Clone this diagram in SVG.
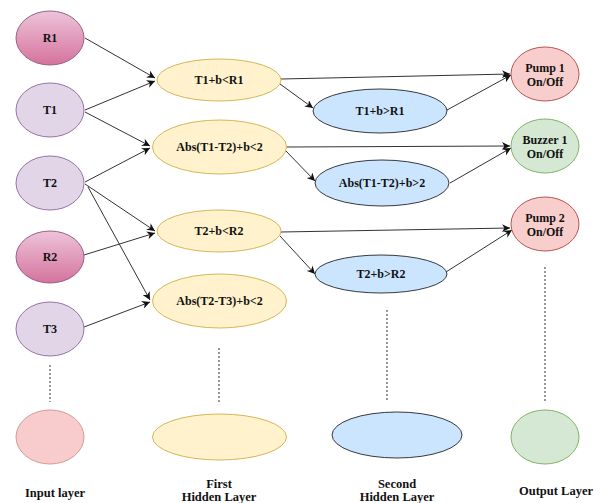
<svg xmlns="http://www.w3.org/2000/svg" width="606" height="503" viewBox="0 0 606 503">
<defs>
<linearGradient id="pinkG" x1="0" y1="0" x2="0" y2="1">
<stop offset="0" stop-color="#edc4da"/>
<stop offset="1" stop-color="#d5739d"/>
</linearGradient>
<marker id="arr" viewBox="0 0 10 10" refX="10" refY="5" markerWidth="8" markerHeight="8" orient="auto" markerUnits="userSpaceOnUse">
<path d="M0,0 L10,5 L0,10 L3,5 z" fill="#111"/>
</marker>
<style>
.lbl{font-family:"Liberation Serif","Times New Roman",serif;font-weight:bold;font-size:12px;fill:#111;text-anchor:middle}
.cap{font-family:"Liberation Serif","Times New Roman",serif;font-weight:bold;font-size:12.5px;fill:#111;text-anchor:middle}
.pink{fill:url(#pinkG);stroke:#996185;stroke-width:1}
.lav{fill:#e1d5e7;stroke:#9673a6;stroke-width:1}
.yel{fill:#fff2cc;stroke:#d6b656;stroke-width:1}
.blu{fill:#cce5ff;stroke:#36393d;stroke-width:1}
.red{fill:#f8cecc;stroke:#b85450;stroke-width:1}
.grn{fill:#d5e8d4;stroke:#82b366;stroke-width:1}
.edge{stroke:#333;stroke-width:1;fill:none;marker-end:url(#arr)}
.dot{stroke:#333;stroke-width:1;stroke-dasharray:2,2;fill:none}
</style>
</defs>
<rect width="606" height="503" fill="#fff"/>

<g id="connectors">
<line class="edge" x1="85" y1="38" x2="155" y2="78"/>
<line class="edge" x1="85" y1="110" x2="155" y2="81"/>
<line class="edge" x1="85" y1="112" x2="150" y2="146"/>
<line class="edge" x1="85" y1="182" x2="150" y2="148"/>
<line class="edge" x1="85" y1="184" x2="155" y2="231"/>
<line class="edge" x1="88" y1="187" x2="150" y2="300"/>
<line class="edge" x1="84" y1="255" x2="155" y2="233"/>
<line class="edge" x1="84" y1="327" x2="150" y2="302"/>
<line class="edge" x1="281" y1="79" x2="510" y2="74"/>
<line class="edge" x1="280" y1="84" x2="313" y2="108"/>
<line class="edge" x1="447" y1="110" x2="511" y2="75"/>
<line class="edge" x1="287" y1="147" x2="510" y2="146"/>
<line class="edge" x1="286" y1="151" x2="315" y2="181"/>
<line class="edge" x1="450" y1="183" x2="511" y2="148"/>
<line class="edge" x1="281" y1="232" x2="510" y2="228"/>
<line class="edge" x1="280" y1="236" x2="315" y2="274"/>
<line class="edge" x1="446" y1="272" x2="512" y2="230"/>
<line class="dot" x1="50" y1="365" x2="50" y2="402"/>
<line class="dot" x1="219" y1="348" x2="219" y2="402"/>
<line class="dot" x1="387" y1="310" x2="387" y2="402"/>
<line class="dot" x1="545" y1="267" x2="545" y2="402"/>
</g>

<g id="R1"><ellipse class="pink" cx="50" cy="38" rx="34" ry="27"/><text class="lbl" x="50" y="42">R1</text></g>
<g id="T1"><ellipse class="lav" cx="50" cy="110" rx="34" ry="27"/><text class="lbl" x="50" y="114">T1</text></g>
<g id="T2"><ellipse class="lav" cx="50" cy="183" rx="34" ry="27"/><text class="lbl" x="50" y="187">T2</text></g>
<g id="R2"><ellipse class="pink" cx="50" cy="257" rx="34" ry="26"/><text class="lbl" x="50" y="261">R2</text></g>
<g id="T3"><ellipse class="lav" cx="50" cy="329" rx="34" ry="27"/><text class="lbl" x="50" y="333">T3</text></g>
<g id="Inext"><ellipse class="red" cx="50" cy="437" rx="34" ry="27" style="fill:#f8cccc;stroke:#d49a98"/></g>

<g id="H1a"><ellipse class="yel" cx="219" cy="80" rx="62" ry="21"/><text class="lbl" x="219" y="84">T1+b&lt;R1</text></g>
<g id="H1b"><ellipse class="yel" cx="219.5" cy="147" rx="67" ry="27"/><text class="lbl" x="219.5" y="151">Abs(T1-T2)+b&lt;2</text></g>
<g id="H1c"><ellipse class="yel" cx="219" cy="231" rx="62" ry="21"/><text class="lbl" x="219" y="235">T2+b&lt;R2</text></g>
<g id="H1d"><ellipse class="yel" cx="219.5" cy="301" rx="67" ry="27"/><text class="lbl" x="219.5" y="305">Abs(T2-T3)+b&lt;2</text></g>
<g id="H1next"><ellipse class="yel" cx="219.5" cy="437" rx="67" ry="23"/></g>

<g id="H2a"><ellipse class="blu" cx="380" cy="111" rx="67" ry="22"/><text class="lbl" x="380" y="115">T1+b&gt;R1</text></g>
<g id="H2b"><ellipse class="blu" cx="382" cy="183" rx="67" ry="23"/><text class="lbl" x="382" y="187">Abs(T1-T2)+b&gt;2</text></g>
<g id="H2c"><ellipse class="blu" cx="381" cy="274" rx="66" ry="19"/><text class="lbl" x="381" y="278">T2+b&gt;R2</text></g>
<g id="H2next"><ellipse class="blu" cx="397" cy="435" rx="65" ry="23"/></g>

<g id="O1"><ellipse class="red" cx="545" cy="74" rx="34" ry="27"/><text class="lbl" x="545" y="72">Pump 1</text><text class="lbl" x="545" y="86">On/Off</text></g>
<g id="O2"><ellipse class="grn" cx="545" cy="146" rx="34" ry="27"/><text class="lbl" x="545" y="144">Buzzer 1</text><text class="lbl" x="545" y="158">On/Off</text></g>
<g id="O3"><ellipse class="red" cx="545" cy="224" rx="34" ry="27"/><text class="lbl" x="545" y="222">Pump 2</text><text class="lbl" x="545" y="236">On/Off</text></g>
<g id="Onext"><ellipse class="grn" cx="545" cy="437" rx="34" ry="27"/></g>

<g id="captions">
<text class="cap" x="55" y="497">Input layer</text>
<text class="cap" x="219" y="488">First</text>
<text class="cap" x="219" y="500.5">Hidden Layer</text>
<text class="cap" x="397" y="488">Second</text>
<text class="cap" x="397" y="500.5">Hidden Layer</text>
<text class="cap" x="556" y="495">Output Layer</text>
</g>
</svg>
